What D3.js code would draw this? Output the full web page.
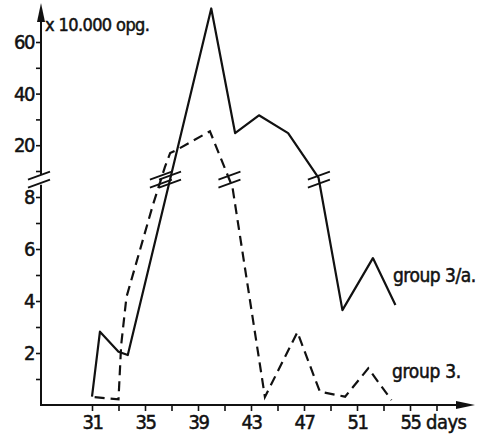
<!DOCTYPE html>
<html>
<head>
<meta charset="utf-8">
<script src="https://cdn.jsdelivr.net/npm/d3@7"></script>
<style>
body { margin: 0; background: #fff; }
text { font-family: "DejaVu Sans Condensed", "Liberation Sans Narrow", sans-serif; fill: #111; stroke: #111; stroke-width: 0.5px; }
</style>
</head>
<body>
<svg></svg>
<script>
// values (days, x10.000 opg.)
var solidDays = [31, 31.6, 33, 33.7, 40, 41.8, 43.6, 45.8, 48.1, 49.9, 52.2, 53.9];
var solidVals = [0.32, 2.82, 2.05, 1.92, 73, 24.7, 31.6, 24.7, 9.2, 3.65, 5.65, 3.85];
var dashDays = [31.2, 33.0, 33.2, 33.6, 35.6, 36.5, 36.9, 37.4, 39.9, 41.6, 44.05, 46.5, 48.2, 50.1, 51.85, 53.6];
var dashVals = [0.3, 0.22, 2.3, 4.15, 7.7, 11.5, 17, 18.2, 25.4, 8.38, 0.31, 2.8, 0.51, 0.32, 1.41, 0.19];

var xTicks = [31, 33, 35, 37, 39, 41, 43, 45, 47, 49, 51, 53, 55, 57];
var xLabels = [31, 35, 39, 43, 47, 51, 55];
var yLowTicks = [1, 2, 3, 4, 5, 6, 7, 8];
var yLowLabels = [2, 4, 6, 8];
var yHighTicks = [10, 20, 30, 40, 50, 60];
var yHighLabels = [20, 40, 60];
var breakVal = 9;

var width = 480, height = 439;
var axisX = 41, axisY = 405;

var svg = d3.select("svg")
    .attr("width", width)
    .attr("height", height);

var x = d3.scaleLinear().domain([31, 55]).range([92, 410]);
// broken axis: lower part 0..8.5, upper part 10..60
var y = d3.scaleLinear().domain([0, 8.5, 10, 60]).range([axisY, 184, 171, 42]);

// x axis
var xAxis = d3.axisBottom(x)
    .tickValues(xTicks)
    .tickSize(6)
    .tickPadding(4)
    .tickFormat(function(d) { return xLabels.indexOf(d) >= 0 ? d : ""; });

var gx = svg.append("g")
    .attr("transform", "translate(0," + axisY + ")")
    .call(xAxis);
gx.select(".domain").remove();
gx.selectAll("line").attr("stroke", "#111").attr("stroke-width", 1.6);
gx.selectAll("text").style("font-size", "20px").style("letter-spacing", "-1.5px").attr("fill", "#111");

svg.append("line")
    .attr("x1", axisX - 1).attr("x2", 460)
    .attr("y1", axisY).attr("y2", axisY)
    .attr("stroke", "#111").attr("stroke-width", 2);
svg.append("path")
    .attr("d", "M475," + axisY + "L456," + (axisY - 4) + "L456," + (axisY + 4) + "Z")
    .attr("fill", "#111");
svg.append("text")
    .attr("x", 426).attr("y", 429)
    .style("font-size", "20px")
    .style("letter-spacing", "-0.5px")
    .text("days");

// y axis, two parts
function yAxisPart(ticks, labels) {
    var ax = d3.axisLeft(y)
        .tickValues(ticks)
        .tickSize(5)
        .tickPadding(2)
        .tickFormat(function(d) { return labels.indexOf(d) >= 0 ? d : ""; });
    var g = svg.append("g")
        .attr("transform", "translate(" + axisX + ",0)")
        .call(ax);
    g.select(".domain").remove();
    g.selectAll("line").attr("stroke", "#111").attr("stroke-width", 1.6);
    g.selectAll("text").style("font-size", "20px").style("letter-spacing", "-1.5px").attr("fill", "#111");
}
yAxisPart(yLowTicks, yLowLabels);
yAxisPart(yHighTicks, yHighLabels);

var yb = y(breakVal);
svg.append("line")
    .attr("x1", axisX).attr("x2", axisX)
    .attr("y1", axisY + 1).attr("y2", yb + 5)
    .attr("stroke", "#111").attr("stroke-width", 2);
svg.append("line")
    .attr("x1", axisX).attr("x2", axisX)
    .attr("y1", yb - 5).attr("y2", 20)
    .attr("stroke", "#111").attr("stroke-width", 2);
svg.append("path")
    .attr("d", "M" + axisX + ",3L" + (axisX - 4) + ",22L" + (axisX + 4) + ",22Z")
    .attr("fill", "#111");

svg.append("text")
    .attr("x", 45).attr("y", 31)
    .style("font-size", "18px")
    .style("letter-spacing", "-0.6px")
    .text("x 10.000 opg.");

// break marks "//"
function breakMark(cx, cy) {
    [-4, 4].forEach(function(o) {
        svg.append("line")
            .attr("x1", cx - 11).attr("y1", cy + o + 4)
            .attr("x2", cx + 11).attr("y2", cy + o - 4)
            .attr("stroke", "#111").attr("stroke-width", 1.8);
    });
}
breakMark(axisX - 2, yb);

function crossings(days, vals) {
    var out = [];
    for (var i = 1; i < days.length; i++) {
        var y0 = y(vals[i - 1]), y1 = y(vals[i]);
        if ((y0 - yb) * (y1 - yb) < 0) {
            var t = (yb - y0) / (y1 - y0);
            out.push([x(days[i - 1]) + t * (x(days[i]) - x(days[i - 1])), yb]);
        }
    }
    return out;
}

var line = d3.line()
    .x(function(d) { return x(d[0]); })
    .y(function(d) { return y(d[1]); });

svg.append("path")
    .datum(d3.zip(solidDays, solidVals))
    .attr("d", line)
    .attr("fill", "none")
    .attr("stroke", "#111")
    .attr("stroke-width", 2.2)
    .attr("stroke-linejoin", "round");

svg.append("path")
    .datum(d3.zip(dashDays, dashVals))
    .attr("d", line)
    .attr("fill", "none")
    .attr("stroke", "#111")
    .attr("stroke-width", 2.2)
    .attr("stroke-dasharray", "10,6");

crossings(solidDays, solidVals).forEach(function(p) { breakMark(p[0], p[1]); });
crossings(dashDays, dashVals).forEach(function(p) { breakMark(p[0], p[1]); });

svg.append("text")
    .attr("x", 393).attr("y", 282)
    .style("font-size", "19px")
    .style("letter-spacing", "-0.5px")
    .text("group 3/a.");
svg.append("text")
    .attr("x", 392).attr("y", 378)
    .style("font-size", "19px")
    .style("letter-spacing", "-0.3px")
    .text("group 3.");
</script>
</body>
</html>
